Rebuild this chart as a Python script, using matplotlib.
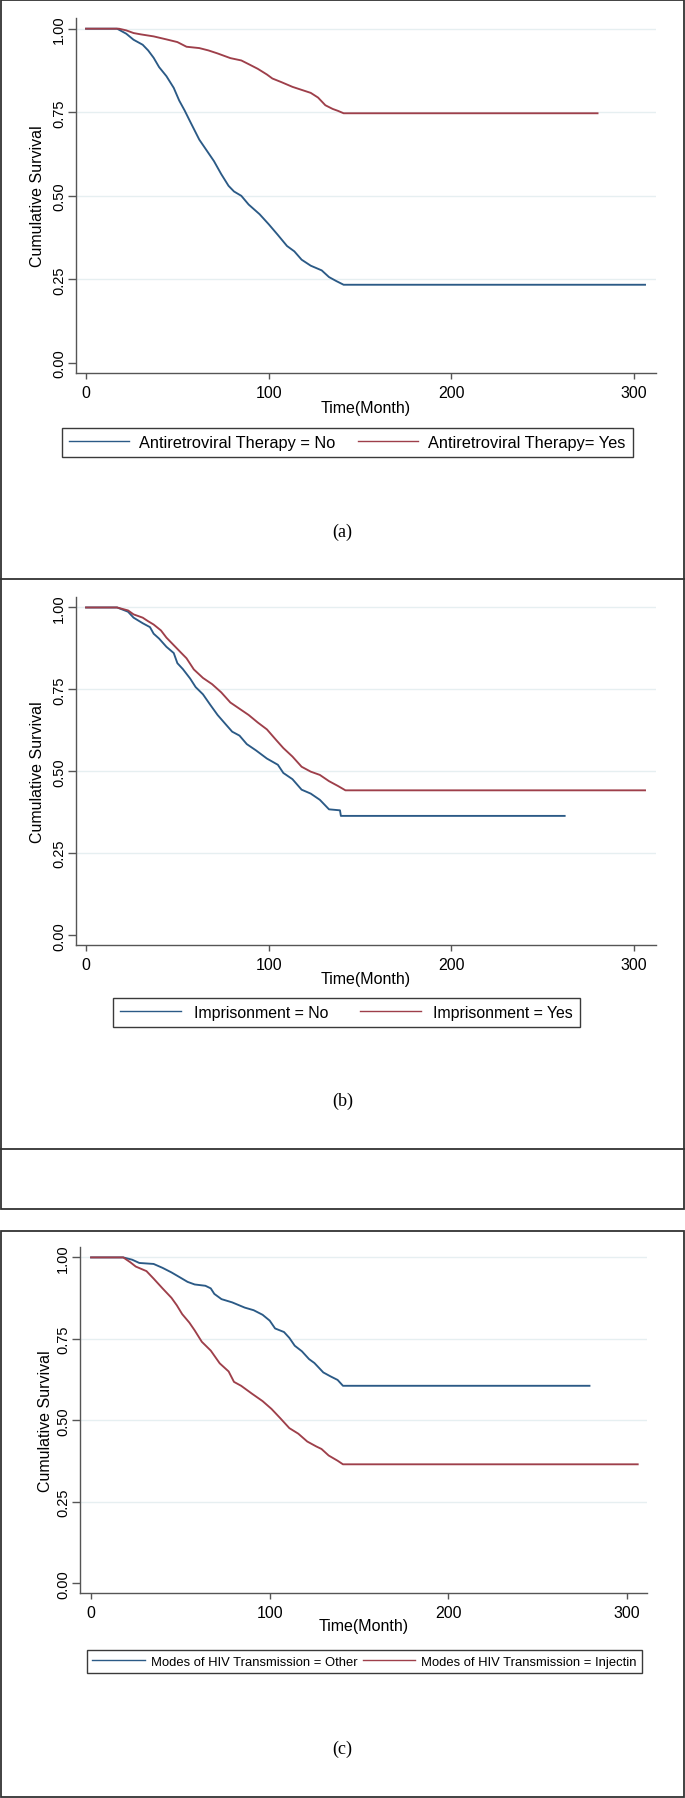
import matplotlib
matplotlib.use("Agg")
import matplotlib.pyplot as plt
from matplotlib.lines import Line2D
from matplotlib.patches import Rectangle

plt.rcParams["font.family"] = ["Liberation Sans", "DejaVu Sans"]

# ---- data (time in months, survival) ----
# (a) Antiretroviral therapy
art_no_t = [0, 17, 22, 26, 31, 34, 37, 40, 44, 48, 51, 54, 57, 62, 66, 70, 74, 78, 81, 85,
            89, 95, 100, 105, 110, 114, 118, 123, 129, 133, 137, 141, 306]
art_no_s = [1, 1, 0.985, 0.967, 0.952, 0.935, 0.913, 0.885, 0.858, 0.823, 0.785, 0.755, 0.722,
            0.668, 0.636, 0.604, 0.565, 0.530, 0.513, 0.500, 0.474, 0.445, 0.415, 0.383, 0.350,
            0.334, 0.309, 0.291, 0.277, 0.257, 0.245, 0.234, 0.234]
art_yes_t = [0, 18, 22, 26, 30, 37, 44, 50, 55, 62, 67, 72, 79, 85, 89, 94, 99, 102, 107, 113,
             118, 123, 127, 131, 135, 138, 141, 280]
art_yes_s = [1, 1, 0.995, 0.987, 0.983, 0.977, 0.968, 0.960, 0.946, 0.942, 0.935, 0.926, 0.912,
             0.905, 0.894, 0.880, 0.863, 0.851, 0.840, 0.826, 0.817, 0.808, 0.794, 0.771, 0.760,
             0.754, 0.747, 0.747]

# (b) Imprisonment
imp_no_t = [0, 17, 23, 26, 31, 35, 37, 40, 44, 48, 50, 53, 57, 60, 64, 68, 72, 77, 80, 84, 88,
            93, 99, 105, 108, 113, 118, 123, 128, 133, 139, 139.5, 262]
imp_no_s = [1, 1, 0.987, 0.969, 0.952, 0.940, 0.920, 0.905, 0.880, 0.861, 0.830, 0.812, 0.783,
            0.757, 0.735, 0.703, 0.672, 0.640, 0.621, 0.609, 0.583, 0.564, 0.539, 0.520, 0.495,
            0.476, 0.444, 0.432, 0.413, 0.384, 0.381, 0.364, 0.364]
imp_yes_t = [0, 17, 23, 26, 31, 34, 37, 41, 44, 48, 52, 55, 59, 64, 69, 74, 79, 84, 89, 94, 99,
             104, 108, 113, 118, 123, 128, 133, 138, 142, 306]
imp_yes_s = [1, 1, 0.991, 0.979, 0.969, 0.958, 0.948, 0.930, 0.908, 0.885, 0.862, 0.845, 0.811,
             0.785, 0.766, 0.741, 0.710, 0.691, 0.672, 0.649, 0.628, 0.596, 0.571, 0.545, 0.514,
             0.499, 0.489, 0.470, 0.455, 0.442, 0.442]

# (c) Modes of HIV transmission
oth_t = [0, 18, 23, 27, 35, 40, 45, 50, 54, 58, 64, 67, 69, 73, 79, 86, 91, 96, 100, 103, 108,
         111, 114, 118, 122, 125, 130, 134, 138, 141, 279]
oth_s = [1, 1, 0.993, 0.983, 0.980, 0.968, 0.954, 0.938, 0.925, 0.917, 0.913, 0.905, 0.888,
         0.872, 0.862, 0.846, 0.838, 0.824, 0.806, 0.782, 0.771, 0.753, 0.729, 0.712, 0.688,
         0.676, 0.647, 0.635, 0.624, 0.606, 0.606]
inj_t = [0, 18, 22, 25, 31, 35, 40, 45, 48, 51, 55, 58, 62, 67, 72, 77, 80, 84, 90, 96, 101,
         106, 111, 116, 121, 126, 129, 133, 138, 141, 306]
inj_s = [1, 1, 0.985, 0.972, 0.958, 0.935, 0.905, 0.876, 0.853, 0.826, 0.800, 0.776, 0.741,
         0.714, 0.675, 0.650, 0.618, 0.606, 0.582, 0.559, 0.535, 0.506, 0.476, 0.459, 0.435,
         0.420, 0.412, 0.392, 0.376, 0.365, 0.365]

xticks = [0, 100, 200, 300]
yticks = [0, 0.25, 0.5, 0.75, 1.0]
ytick_labels = ["0.00", "0.25", "0.50", "0.75", "1.00"]

BLUE = "#2b5a86"
RED = "#9e3f4a"
GRID = "#e6eff1"
AXC = "#555555"

W, H = 685, 1799
fig = plt.figure(figsize=(W / 100, H / 100), dpi=100)


def fx(px):
    return px / W


def fy(py):
    return 1 - py / H


def panel(box, xlim, series, labels, leg, tag, tag_y):
    l, t, r, b, ylab_x, xlab_y = box
    ax = fig.add_axes([fx(l), fy(b), fx(r - l), (b - t) / H])
    for yv in yticks[1:]:
        ax.axhline(yv, color=GRID, lw=1.0, zorder=0)
    cols = [BLUE, RED]
    for (tt, ss), c in zip(series, cols):
        ax.plot(tt, ss, color=c, lw=1.35, zorder=3)
    ax.set_xlim(*xlim)
    ax.set_ylim(-0.03, 1.032)
    ax.set_xticks(xticks)
    ax.set_yticks(yticks)
    ax.set_yticklabels(ytick_labels)
    for s in ["top", "right"]:
        ax.spines[s].set_visible(False)
    for s in ["left", "bottom"]:
        ax.spines[s].set_color(AXC)
        ax.spines[s].set_linewidth(1.0)
    ax.tick_params(axis="x", length=4.5, width=1, color=AXC, pad=4, labelsize=11.5)
    ax.tick_params(axis="y", length=5.5, width=1, color=AXC, pad=1.5, labelsize=10.5,
                   labelrotation=90)
    for lab in ax.get_yticklabels():
        lab.set_va("center")
    ax.set_ylabel("Cumulative Survival", fontsize=11.5)
    ax.yaxis.set_label_coords((ylab_x - l) / (r - l), 0.5)
    ax.set_xlabel("Time(Month)", fontsize=11.5, va="top")
    ax.xaxis.set_label_coords(0.5, (b - xlab_y) / (b - t))

    fs, hl, htp, cs, cx, cy = leg
    handles = [Line2D([], [], color=BLUE, lw=1.0), Line2D([], [], color=RED, lw=1.0)]
    lg = ax.legend(handles, labels, ncol=2, loc="center",
                   bbox_to_anchor=(fx(cx), fy(cy)), bbox_transform=fig.transFigure,
                   fontsize=fs, handlelength=hl, handletextpad=htp, columnspacing=cs,
                   borderpad=0.42, frameon=True, fancybox=False, edgecolor="#3a3a3a",
                   framealpha=1)
    lg.get_frame().set_linewidth(1.0)
    fig.text(fx(342.5), fy(tag_y), tag, family="Liberation Serif", fontsize=13,
             ha="center", va="center")
    return ax


# (a)
panel((76, 19, 656, 374, 44.5, 401.5), (-5.5, 312),
      [(art_no_t, art_no_s), (art_yes_t, art_yes_s)],
      ["Antiretroviral Therapy = No", "Antiretroviral Therapy= Yes"],
      (11.8, 3.66, 0.6, 1.4, 347.5, 443.5), "(a)", 532)

# (b)
panel((76, 598, 656, 946, 44.5, 972), (-5.5, 312),
      [(imp_no_t, imp_no_s), (imp_yes_t, imp_yes_s)],
      ["Imprisonment = No", "Imprisonment = Yes"],
      (11.4, 3.86, 0.8, 2.0, 346.5, 1013.5), "(b)", 1101)

# (c)
panel((80, 1248, 647, 1594, 53.5, 1619.5), (-6.2, 311.2),
      [(oth_t, oth_s), (inj_t, inj_s)],
      ["Modes of HIV Transmission = Other", "Modes of HIV Transmission = Injectin"],
      (9.4, 4.0, 0.45, 0.45, 364.5, 1662.5), "(c)", 1749)

# frames around the panels
frame = dict(transform=fig.transFigure, fill=False, ec="#333333", lw=1.3, zorder=10)
fig.add_artist(Rectangle((fx(1), fy(1210)), fx(683), 1209 / H, **frame))
fig.add_artist(Rectangle((fx(1), fy(1798)), fx(683), 566 / H, **frame))
for yy in [580, 1150]:
    fig.add_artist(Line2D([0, 1], [fy(yy), fy(yy)], transform=fig.transFigure,
                          color="#333333", lw=1.3))

fig.savefig("out.png", dpi=100)
